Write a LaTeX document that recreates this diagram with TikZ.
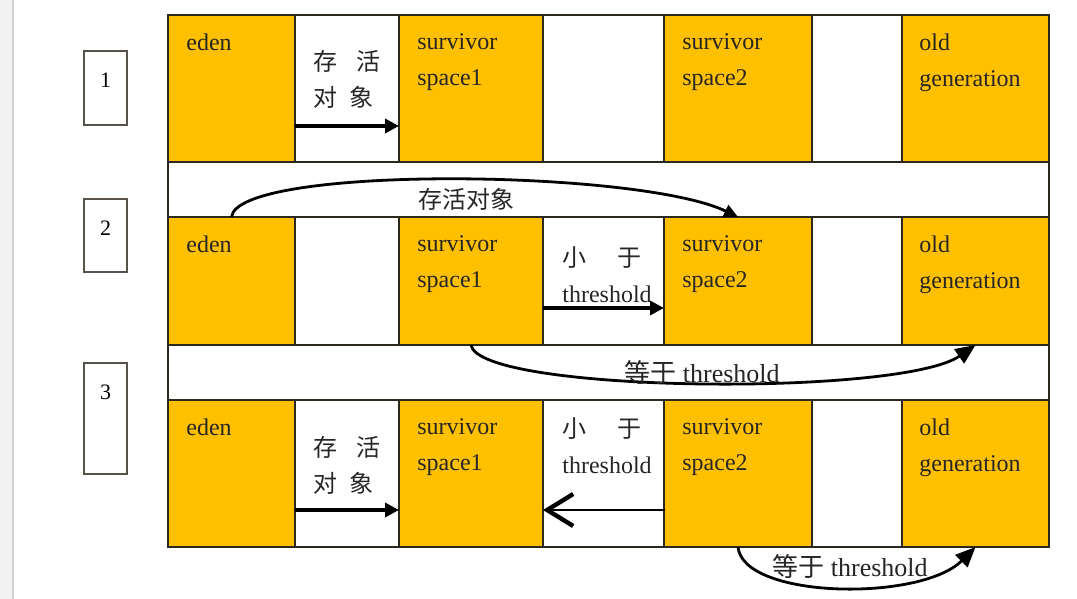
\documentclass[tikz,border=0pt]{standalone}
\usepackage{fontspec}
\setmainfont{Liberation Serif}
\newfontfamily\cjk{Noto Sans CJK SC}
\usetikzlibrary{arrows.meta,positioning,calc,fit}
\definecolor{heap}{RGB}{255,192,0}
\definecolor{edge}{RGB}{45,40,30}

\begin{document}
\begin{tikzpicture}[x=0.5pt, y=-0.5pt,
  cell/.style={draw=edge, line width=0.9pt, inner sep=0pt, outer sep=0pt},
  numbox/.style={draw=edge!80, line width=0.8pt, inner sep=0pt},
  numtxt/.style={anchor=center, yshift=-15pt, inner sep=0pt, font=\fontsize{11}{13}\selectfont},
  lbl/.style={inner sep=0pt, align=left, font=\fontsize{12}{18}\selectfont, text=black!85},
  flow/.style={line width=1.8pt, -{Triangle[length=7pt,width=7pt]}},
  back/.style={line width=1.4pt, line cap=round, -{Straight Barb[length=13pt,width=16pt,line width=2.2pt]}},
  curved/.style={line width=1.4pt, -{Triangle[length=7pt,width=6.5pt]}},
  bigtip/.style={-{Triangle[length=10pt,width=8.5pt]}}]
  \useasboundingbox (0,0) rectangle (1077,599);
  \fill[white] (0,0) rectangle (1077,599);
  % bord de page
  \fill[black!5] (0,0) rectangle (13,599);
  \draw[black!18, line width=0.8pt] (13,0) -- (13,599);
  % cases du tas
  \foreach \r/\ya/\yb in {1/15/162, 2/217/345, 3/400/547}
    \foreach \c/\xa/\xb/\fc in {eden/168/295/heap, pa/295/399/white, sva/399/543/heap,
                                 pb/543/664/white, svb/664/812/heap, pc/812/902/white, old/902/1049/heap}
      \node[cell, fill=\fc, fit={(\xa,\ya) (\xb,\yb)}] (\c\r) {};
  \node[cell, fit=(eden1)(old3)] (frame) {};
  % numeros
  \node[numbox, fit={(84,51) (127,125)}, label={[numtxt]north:1}] (n1) {};
  \node[numbox, fit={(84,199) (127,272)}, label={[numtxt]north:2}] (n2) {};
  \node[numbox, fit={(84,363) (127,474)}, label={[numtxt]north:3}] (n3) {};
  % noms des zones
  \foreach \r in {1,2,3} {
    \node[lbl, below right=9pt and 9pt of eden\r.north west] (teden\r) {eden};
    \node[lbl, below right=9pt and 9pt of sva\r.north west] (tsva\r) {survivor\\space1};
    \node[lbl, below right=9pt and 9pt of svb\r.north west] (tsvb\r) {survivor\\space2};
    \node[lbl, below right=9pt and 8.5pt of old\r.north west] (told\r) {old\\generation};
  }
  \node[lbl, below right=17.5pt and 9pt of pa1.north west] (tpa1) {{\cjk 存\hspace{9.5pt}活}\\{\cjk 对\hspace{6pt}象}};
  \node[lbl, below right=18pt and 9pt of pa3.north west] (tpa3) {{\cjk 存\hspace{9.5pt}活}\\{\cjk 对\hspace{6pt}象}};
  \node[lbl, below right=14.5pt and 9.5pt of pb2.north west] (tpb2) {{\cjk 小\hspace{15.5pt}于}\\threshold};
  \node[lbl, below right=8.5pt and 9.5pt of pb3.north west] (tpb3) {{\cjk 小\hspace{15.5pt}于}\\threshold};
  % fleches droites
  \draw[flow] ($(eden1.south east)+(0,-36)$) -- ($(sva1.south west)+(0,-36)$);
  \draw[flow] ($(sva2.south east)+(0,-37)$) -- ($(svb2.south west)+(0,-37)$);
  \draw[flow] ($(eden3.south east)+(0,-37)$) -- ($(sva3.south west)+(0,-37)$);
  \draw[back] ($(svb3.south west)+(0,-37)$) -- ($(sva3.south east)+(0,-37)$);
  % fleches courbes
  \draw[curved] (eden2.north) .. controls ($(eden2.north)+(6,-52)$) and ($(svb2.north)+(-100,-48)$) .. (svb2.north);
  \draw[curved, bigtip] (sva2.south) .. controls ($(sva2.south)+(8,48)$) and ($(old2.south)+(-75,52)$) .. (old2.south);
  \draw[curved, bigtip] (svb3.south) .. controls ($(svb3.south)+(5,52)$) and ($(old3.south)+(-55,55)$) .. (old3.south);
  \node[lbl, font=\cjk\fontsize{12}{14}\selectfont] (lgap1) at (466,199) {存活对象};
  \node[lbl, font=\fontsize{13}{15}\selectfont] (lgap2) at (702,373) {{\cjk 等于} threshold};
  \node[lbl, font=\fontsize{13}{15}\selectfont] (lgap3) at (850,567) {{\cjk 等于} threshold};
\end{tikzpicture}
\end{document}
